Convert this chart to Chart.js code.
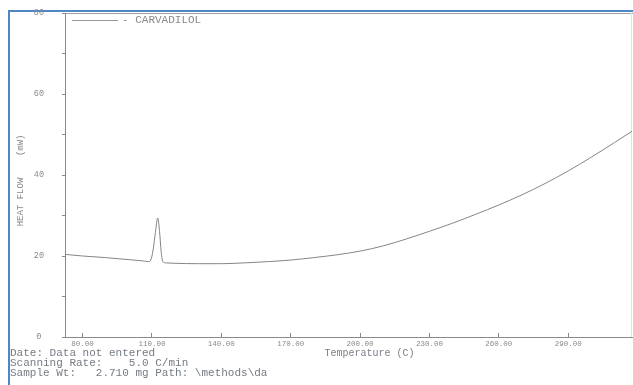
<!DOCTYPE html>
<html>
<head>
<meta charset="utf-8">
<script src="https://cdn.jsdelivr.net/npm/chart.js@4/dist/chart.umd.min.js"></script>
<style>
  html, body { margin: 0; padding: 0; background: #fff; }
  body { width: 633px; height: 385px; position: relative; overflow: hidden; }
  #frame { position: absolute; left: 8px; top: 10px; width: 700px; height: 400px;
           border-left: 2px solid #4f86c6; border-top: 2px solid #4f86c6; box-sizing: border-box; }
  #topline { position: absolute; left: 65px; top: 13px; width: 568px; height: 0; border-top: 1px solid #a0a0a0; }
  #rightline { position: absolute; left: 631px; top: 13px; width: 0; height: 324px; border-left: 1px solid #e2e2e2; }
  #wrap { position: absolute; left: 0; top: 0; width: 633px; height: 385px; }
  .mono { font-family: "Liberation Mono", "DejaVu Sans Mono", monospace; color: #767b84; }
  #legend { position: absolute; left: 72px; top: 13px; font-size: 11px; line-height: 14px; white-space: pre; color: #8a8a8a; }
  #legend .ln { display: inline-block; width: 46px; height: 0; border-top: 1px solid #999; vertical-align: middle; margin-right: 4px; }
  #info { position: absolute; left: 10px; top: 348px; font-size: 11px; line-height: 10px; white-space: pre; }
</style>
</head>
<body>
<div id="frame"></div>
<div id="topline"></div>
<div id="rightline"></div>
<div id="wrap"><canvas id="c" width="633" height="385"></canvas></div>
<div id="legend" class="mono"><span class="ln"></span>- CARVADILOL</div>
<div id="info" class="mono">Date: Data not entered
Scanning Rate:    5.0 C/min
Sample Wt:   2.710 mg Path: \methods\da</div>
<script>
// ---- data ----
const seriesName = "CARVADILOL";
const temperatures = [72.4, 80, 90, 100, 106, 108.5, 109.5, 110.5, 111.5, 112.5, 113.3, 114, 114.8, 116,
  120, 130, 140, 150, 160, 170, 180, 190, 200, 210, 220, 230, 240, 250, 260, 270, 280, 290, 300, 310, 317.6];
const heatFlow = [20.4, 20.0, 19.6, 19.1, 18.8, 18.6, 19.0, 21.5, 25.8, 29.4, 26.0, 21.0, 18.5, 18.3,
  18.2, 18.1, 18.1, 18.3, 18.6, 19.0, 19.6, 20.3, 21.2, 22.5, 24.2, 26.1, 28.1, 30.3, 32.6, 35.1, 37.9, 41.0, 44.4, 48.0, 50.8];
const xTickValues = [80, 110, 140, 170, 200, 230, 260, 290];
const yTickLabelValues = [0, 20, 40, 60, 80];

const points = temperatures.map((t, i) => ({ x: t, y: heatFlow[i] }));
const mono = '"Liberation Mono", "DejaVu Sans Mono", monospace';

new Chart(document.getElementById('c'), {
  type: 'line',
  data: {
    datasets: [{
      label: seriesName,
      data: points,
      borderColor: '#858585',
      borderWidth: 1,
      pointRadius: 0,
      cubicInterpolationMode: 'monotone',
      fill: false
    }]
  },
  options: {
    responsive: false,
    animation: false,
    devicePixelRatio: 1,
    layout: { padding: { left: 12, right: 1, top: 13, bottom: 0 } },
    plugins: { legend: { display: false }, tooltip: { enabled: false } },
    scales: {
      x: {
        type: 'linear',
        min: 72.4,
        max: 317.6,
        afterBuildTicks: (s) => { s.ticks = xTickValues.map(v => ({ value: v })); },
        afterFit: (s) => { s.height = 48; s.paddingLeft = 0; s.paddingRight = 0; },
        ticks: {
          autoSkip: false,
          maxRotation: 0,
          padding: 7,
          color: '#8a8a8a',
          font: { family: mono, size: 7.5 },
          callback: (v) => Number(v).toFixed(2)
        },
        grid: { drawOnChartArea: false, drawTicks: true, tickLength: -4, color: '#888' },
        border: { display: true, color: '#8a8a8a', width: 1 },
        title: {
          display: true,
          text: '       Temperature (C)',
          color: '#7a7f88',
          font: { family: mono, size: 10 },
          padding: { top: 0, bottom: 26 }
        }
      },
      y: {
        min: 0,
        max: 80,
        afterFit: (s) => { s.width = 53; s.paddingTop = 0; s.paddingBottom = 0; },
        ticks: {
          stepSize: 10,
          crossAlign: 'center',
          padding: 18,
          color: '#8a8a8a',
          font: { family: mono, size: 8.5 },
          callback: (v) => yTickLabelValues.includes(v) ? String(v) : ''
        },
        grid: { drawOnChartArea: false, drawTicks: true, tickLength: 3, color: '#888' },
        border: { display: true, color: '#8a8a8a', width: 1 },
        title: {
          display: true,
          text: 'HEAT FLOW    (mW)  ',
          color: '#8a8a8a',
          font: { family: mono, size: 9 },
          padding: { top: 3, bottom: 0 }
        }
      }
    }
  }
});
</script>
</body>
</html>
